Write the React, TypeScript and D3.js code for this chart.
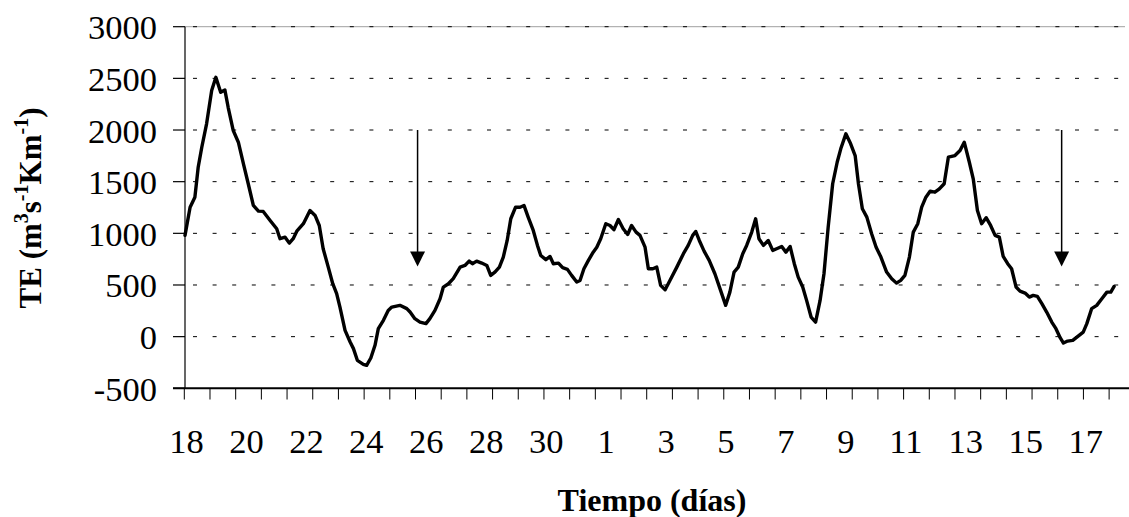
import React, { useEffect } from "react";
import * as d3 from "d3";

// Time in days since the 18th (x), TE value (y)
const dayValues = [
  0, 0.17, 0.33, 0.44, 0.56, 0.72, 0.89, 1.03, 1.19, 1.33, 1.44, 1.61, 1.78, 1.95, 2.11, 2.28, 2.45, 2.61, 2.84, 3.06,
  3.17, 3.34, 3.48, 3.61, 3.73, 3.95, 4.17, 4.34, 4.48, 4.61, 4.78, 4.93, 5.06, 5.17, 5.34, 5.51, 5.62, 5.75, 5.95, 6.06,
  6.2, 6.34, 6.45, 6.62, 6.78, 6.9, 7.17, 7.4, 7.51, 7.67, 7.84, 8.04, 8.17, 8.34, 8.51, 8.62, 8.79, 8.95, 9.18, 9.34,
  9.48, 9.59, 9.73, 9.9, 10.07, 10.2, 10.34, 10.49, 10.62, 10.75, 10.87, 11.03, 11.18, 11.31, 11.45, 11.62, 11.76, 11.87, 12.04, 12.18,
  12.29, 12.46, 12.6, 12.76, 12.9, 13.07, 13.18, 13.31, 13.46, 13.62, 13.74, 13.87, 14.04, 14.18, 14.31, 14.46, 14.62, 14.77, 14.9, 15.05,
  15.18, 15.35, 15.46, 15.61, 15.74, 15.87, 16.02, 16.18, 16.41, 16.63, 16.79, 16.94, 17.04, 17.16, 17.32, 17.49, 17.68, 17.87, 18.04, 18.18,
  18.32, 18.46, 18.61, 18.74, 18.91, 19.04, 19.15, 19.3, 19.46, 19.61, 19.74, 19.91, 20.05, 20.19, 20.33, 20.46, 20.61, 20.74, 20.89, 21.04,
  21.19, 21.32, 21.46, 21.61, 21.76, 21.88, 22.05, 22.21, 22.36, 22.47, 22.6, 22.75, 22.91, 23.06, 23.22, 23.41, 23.58, 23.74, 23.88, 24.02,
  24.17, 24.3, 24.45, 24.58, 24.72, 24.86, 25.02, 25.17, 25.33, 25.47, 25.69, 25.86, 26.0, 26.17, 26.3, 26.44, 26.58, 26.73, 26.88, 27.03,
  27.17, 27.3, 27.45, 27.58, 27.73, 27.86, 28.03, 28.17, 28.3, 28.44, 28.59, 28.75, 28.92, 29.06, 29.2, 29.31, 29.45, 29.62, 29.79, 29.97,
  30.09, 30.25, 30.42, 30.59, 30.76, 30.89, 31.0,
];
const teValues = [
  980, 1253, 1350, 1640, 1833, 2060, 2382, 2510, 2365, 2388, 2220, 1995, 1882, 1673, 1480, 1270, 1215, 1212, 1125, 1044,
  948, 963, 905, 948, 1021, 1093, 1221, 1173, 1076, 851, 673, 512, 416, 286, 61, -52, -116, -229, -268, -278,
  -207, -84, 77, 158, 254, 286, 303, 271, 238, 174, 141, 126, 174, 254, 367, 480, 512, 561, 673, 689,
  731, 706, 731, 712, 689, 593, 625, 673, 770, 931, 1141, 1253, 1253, 1270, 1157, 1028, 883, 786, 745, 776,
  706, 712, 667, 651, 593, 528, 544, 657, 738, 818, 866, 948, 1093, 1076, 1035, 1134, 1044, 989, 1076, 1012,
  980, 866, 657, 657, 673, 496, 454, 544, 673, 803, 883, 980, 1018, 931, 828, 738, 609, 448, 303, 431,
  625, 673, 803, 883, 1012, 1141, 948, 883, 931, 835, 851, 873, 818, 873, 706, 576, 480, 351, 190, 141,
  351, 609, 1060, 1480, 1688, 1818, 1963, 1866, 1753, 1480, 1238, 1157, 996, 866, 770, 625, 561, 518, 544, 593,
  770, 1012, 1093, 1253, 1350, 1408, 1398, 1431, 1480, 1737, 1753, 1802, 1882, 1688, 1528, 1221, 1093, 1151, 1076, 980,
  963, 776, 706, 657, 480, 441, 422, 383, 399, 390, 319, 238, 141, 77, -10, -62, -43, -36, 3, 44,
  126, 271, 303, 367, 431, 431, 486,
];

const xLabels = ["18", "20", "22", "24", "26", "28", "30", "1", "3", "5", "7", "9", "11", "13", "15", "17"];
const xLabelDays = [0, 2, 4, 6, 8, 10, 12, 14, 16, 18, 20, 22, 24, 26, 28, 30];
const yTicks = [-500, 0, 500, 1000, 1500, 2000, 2500, 3000];
const minorTickCount = 36;
const minorTickStepDays = 6 / 7;
const arrowDays = [7.76, 29.25];
const arrowTop = 2000;
const arrowTip = 680;

const FONT = "'Liberation Serif', 'Times New Roman', serif";

export default function App() {
  useEffect(() => {
    document.body.style.margin = "0";
  }, []);

  const x = d3.scaleLinear().domain([0, 31]).range([185, 1114.1]);
  const y = d3.scaleLinear().domain([-500, 3000]).range([388.3, 26.7]);
  const points: [number, number][] = dayValues.map((d, i) => [d, teValues[i]]);
  const line = d3
    .line<[number, number]>()
    .x((d) => x(d[0]))
    .y((d) => y(d[1]));

  const minorTicks = d3.range(minorTickCount + 1).map((k) => k * minorTickStepDays);
  const plotRight = 1125;

  return (
    <svg
      width={1129}
      height={517}
      style={{ position: "absolute", left: 0, top: 0, background: "#fff" }}
      fontFamily={FONT}
    >
      <rect x={0} y={0} width={1129} height={517} fill="#fff" />
      {/* top border */}
      <line x1={185} x2={plotRight} y1={y(3000)} y2={y(3000)} stroke="#a0a0a0" strokeWidth={1} />
      {/* gridlines */}
      {yTicks
        .filter((v) => v > -500)
        .map((v) => (
          <line
            key={"g" + v}
            x1={185}
            x2={plotRight}
            y1={y(v)}
            y2={y(v)}
            stroke="#000"
            strokeWidth={1}
            strokeDasharray="4 15.6"
            strokeDashoffset={-8}
          />
        ))}
      {/* y axis */}
      <line x1={185} x2={185} y1={y(3000)} y2={y(-500)} stroke="#000" strokeWidth={1.2} />
      {yTicks.map((v) => (
        <g key={"yt" + v}>
          <line x1={173} x2={185} y1={y(v)} y2={y(v)} stroke="#000" strokeWidth={1.2} />
          <text x={157} y={y(v) + 12.5} textAnchor="end" fontSize={34.5} fill="#000">
            {v}
          </text>
        </g>
      ))}
      {/* x axis */}
      <line x1={173} x2={1129} y1={y(-500)} y2={y(-500)} stroke="#000" strokeWidth={2} />
      {minorTicks.map((d, i) => (
        <line key={"xt" + i} x1={x(d) - 0.7} x2={x(d) - 0.7} y1={y(-500)} y2={399.5} stroke="#000" strokeWidth={1} />
      ))}
      {xLabels.map((lab, i) => (
        <text key={"xl" + i} x={x(xLabelDays[i]) + 1.5} y={453} textAnchor="middle" fontSize={34.5} fill="#000">
          {lab}
        </text>
      ))}
      {/* arrows */}
      {arrowDays.map((d, i) => {
        const ax = x(d);
        const tip = y(arrowTip);
        return (
          <g key={"ar" + i}>
            <line x1={ax} x2={ax} y1={y(arrowTop)} y2={tip - 12} stroke="#000" strokeWidth={1.5} />
            <polygon points={`${ax - 7.5},${tip - 15} ${ax + 7.5},${tip - 15} ${ax},${tip}`} fill="#000" />
          </g>
        );
      })}
      {/* data line */}
      <path d={line(points) || ""} fill="none" stroke="#000" strokeWidth={3.4} strokeLinejoin="round" strokeLinecap="round" />
      {/* axis titles */}
      <text x={652} y={511} textAnchor="middle" fontSize={32} fontWeight="bold" fill="#000">
        Tiempo (días)
      </text>
      <text transform="translate(41,208) rotate(-90)" textAnchor="middle" fontSize={31} fontWeight="bold" fill="#000">
        TE (m<tspan fontSize={20} dy={-13}>3</tspan>
        <tspan dy={13}>s</tspan>
        <tspan fontSize={20} dy={-13}>-1</tspan>
        <tspan dy={13}>Km</tspan>
        <tspan fontSize={20} dy={-13}>-1</tspan>
        <tspan dy={13}>)</tspan>
      </text>
    </svg>
  );
}
